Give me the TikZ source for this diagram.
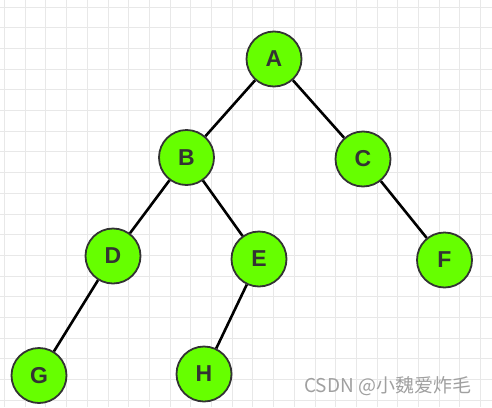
\documentclass[tikz,border=0pt]{standalone}
\usepackage{fontspec}
\setmainfont{Liberation Sans}
\newfontfamily\cjk{Noto Sans CJK SC}
\definecolor{nodegreen}{HTML}{66FF00}
\definecolor{nodeborder}{HTML}{333333}
\definecolor{gridgray}{HTML}{E8E8E8}
\definecolor{wmgray}{HTML}{A0A0A0}
\begin{document}
\begin{tikzpicture}[x=1pt,y=-1pt,
  tnode/.style={circle,draw=nodeborder,line width=1.8pt,fill=nodegreen,minimum size=55pt,inner sep=0pt,
    font=\fontsize{23}{23}\selectfont\bfseries,text=nodeborder},
  tedge/.style={line width=2.6pt,black}]
\useasboundingbox (0,0) rectangle (492,407);
\fill[white] (0,0) rectangle (492,407);
\foreach \i in {0,...,23} {
  \draw[gridgray,line width=1pt] ({4.5+20.7*\i},0) -- ({4.5+20.7*\i},407);
}
\foreach \j in {0,...,19} {
  \draw[gridgray,line width=1pt] (0,{7+20.7*\j}) -- (492,{7+20.7*\j});
}
\node[tnode] (A) at (274,59) {A};
\node[tnode] (B) at (186.5,157.5) {B};
\node[tnode] (C) at (363,159) {C};
\node[tnode] (D) at (113,256) {D};
\node[tnode] (E) at (259,259) {E};
\node[tnode] (F) at (444.5,260) {F};
\node[tnode] (G) at (39,375.5) {G};
\node[tnode] (H) at (204,374) {H};
\draw[tedge] (A) -- (B);
\draw[tedge] (A) -- (C);
\draw[tedge] (B) -- (D);
\draw[tedge] (B) -- (E);
\draw[tedge] (C) -- (F);
\draw[tedge] (D) -- (G);
\draw[tedge] (E) -- (H);
\node[anchor=west,inner sep=0pt,text=wmgray,font=\cjk\fontsize{19}{19}\selectfont] (wm) at (304,386) {CSDN @小魏爱炸毛};
\end{tikzpicture}
\end{document}
